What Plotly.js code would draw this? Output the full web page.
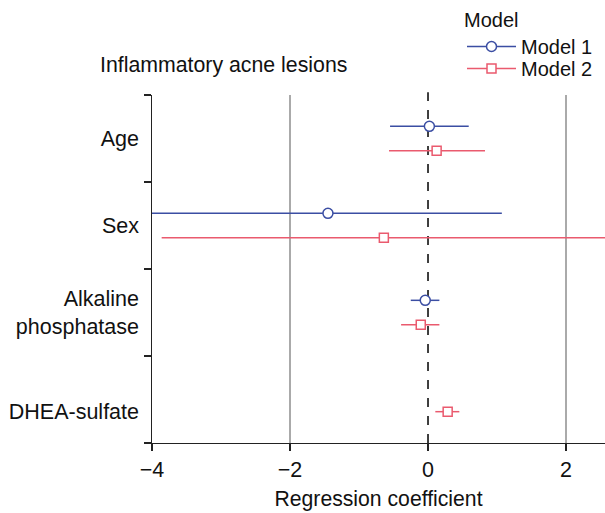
<!DOCTYPE html>
<html>
<head>
<meta charset="utf-8">
<script src="https://cdn.plot.ly/plotly-3.0.1.min.js"></script>
<style>html,body{margin:0;padding:0;background:#fff;}#chart{width:605px;height:513px;}</style>
</head>
<body>
<div id="chart"></div>
<script>
// Categories (top to bottom)
var categories = ['Age', 'Sex', 'Alkaline<br>phosphatase', 'DHEA-sulfate'];
// Model 1 estimates and 95% CI bounds
var m1Est = [0.02, -1.45, -0.04, null];
var m1Lo  = [-0.55, -4.3, -0.25, null];
var m1Hi  = [0.59, 1.07, 0.165, null];
// Model 2 estimates and 95% CI bounds
var m2Est = [0.125, -0.64, -0.105, 0.285];
var m2Lo  = [-0.565, -3.86, -0.39, 0.106];
var m2Hi  = [0.826, 2.9, 0.165, 0.454];
var xTicks = [-4, -2, 0, 2];
var gridVals = [-2, 2];

var blue = '#3b4ea3', red = '#ea5a6e';
var n = categories.length;
var centers = categories.map(function(c, i){ return n - i; });
var off = 0.14;
// label sits at the mean position of the rows that are drawn for each category
var labelPos = centers.map(function(c, i){
  var ys = [];
  if (m1Est[i] !== null) ys.push(c + off);
  if (m2Est[i] !== null) ys.push(c - off);
  return ys.reduce(function(a, b){ return a + b; }, 0) / ys.length;
});

function mk(est, lo, hi, dy, color, symbol, size, name){
  return {
    type: 'scatter', mode: 'markers', name: name, showlegend: false,
    x: est, y: centers.map(function(c){ return c + dy; }),
    marker: {symbol: symbol, size: size, color: '#fff', line: {color: color, width: 1.5}},
    error_x: {type: 'data', symmetric: false,
      array: est.map(function(v, i){ return v === null ? null : hi[i] - v; }),
      arrayminus: est.map(function(v, i){ return v === null ? null : v - lo[i]; }),
      color: color, thickness: 1.5, width: 0},
    hoverinfo: 'x+name'
  };
}
function leg(color, symbol, size, name, legendId){
  return {type: 'scatter', mode: 'lines+markers', name: name, x: [null], y: [null], legend: legendId,
    line: {color: color, width: 1.5},
    marker: {symbol: symbol, size: size, color: '#fff', line: {color: color, width: 1.5}}};
}

var data = [
  mk(m1Est, m1Lo, m1Hi, off, blue, 'circle', 10, 'Model 1'),
  mk(m2Est, m2Lo, m2Hi, -off, red, 'square', 9, 'Model 2'),
  leg(blue, 'circle', 10, 'Model 1', 'legend'),
  leg(red, 'square', 9, 'Model 2', 'legend2'),
  {type: 'scatter', x: [null], y: [null], yaxis: 'y2', showlegend: false, hoverinfo: 'skip'},
  {type: 'scatter', x: [null], y: [null], xaxis: 'x2', showlegend: false, hoverinfo: 'skip'}
];

var fam = 'Liberation Sans, Arial, sans-serif';
var font = {family: fam, size: 20, color: '#111'};
var legX = 462/605;
var layout = {
  width: 605, height: 513,
  margin: {l: 152, r: 0, t: 95, b: 70, autoexpand: false},
  paper_bgcolor: '#fff', plot_bgcolor: '#fff',
  font: font,
  title: {text: 'Inflammatory acne lesions', x: 100/605, xanchor: 'left', xref: 'container',
          y: 1 - 65/513, yanchor: 'middle', yref: 'container', font: {family: fam, size: 21.3, color: '#111'}},
  xaxis: {range: [-4, 2.565], tickvals: xTicks, ticktext: xTicks.map(function(v){ return v < 0 ? '\u2212' + Math.abs(v) : String(v); }),
          ticks: 'outside', ticklen: 7, tickwidth: 1.3, tickcolor: '#222',
          showline: true, linecolor: '#222', linewidth: 1.3,
          showgrid: false, zeroline: false,
          tickfont: {size: 21.5}, title: {text: 'Regression coefficient', font: {size: 21.2}, standoff: 10}},
  xaxis2: {range: [-4, 2.565], overlaying: 'x', tickvals: gridVals, showticklabels: false, ticks: '',
           showgrid: true, gridcolor: '#aaa', gridwidth: 1.5, zeroline: false, showline: false},
  yaxis: {range: [0.5, n + 0.5], tickvals: centers.map(function(c){ return c - 0.5; }).concat([n + 0.5]),
          showticklabels: false, ticks: 'outside', ticklen: 7, tickwidth: 1.3, tickcolor: '#222',
          showline: true, linecolor: '#222', linewidth: 1.3, showgrid: false, zeroline: false},
  yaxis2: {range: [0.5, n + 0.5], overlaying: 'y', side: 'left', tickvals: labelPos, ticktext: categories,
           ticks: '', showline: false, showgrid: false, zeroline: false, ticklabelstandoff: 12,
           tickfont: {size: 21.5}},
  shapes: [
    {type: 'line', layer: 'below', xref: 'x', yref: 'paper', x0: 0, x1: 0, y0: 0, y1: 1.008, line: {color: '#000', width: 1.5, dash: 'dash'}}
  ],
  legend: {x: legX, xref: 'container', xanchor: 'left', y: 1 - 1/513, yref: 'container', yanchor: 'top',
           title: {text: 'Model', font: {size: 20}}, font: {size: 20}, bgcolor: 'rgba(0,0,0,0)',
           itemwidth: 49},
  legend2: {x: legX, xref: 'container', xanchor: 'left', y: 1 - 49/513, yref: 'container', yanchor: 'top',
           font: {size: 20}, bgcolor: 'rgba(0,0,0,0)', itemwidth: 49},
  showlegend: true
};

Plotly.newPlot('chart', data, layout, {displayModeBar: false, staticPlot: true});
</script>
</body>
</html>
